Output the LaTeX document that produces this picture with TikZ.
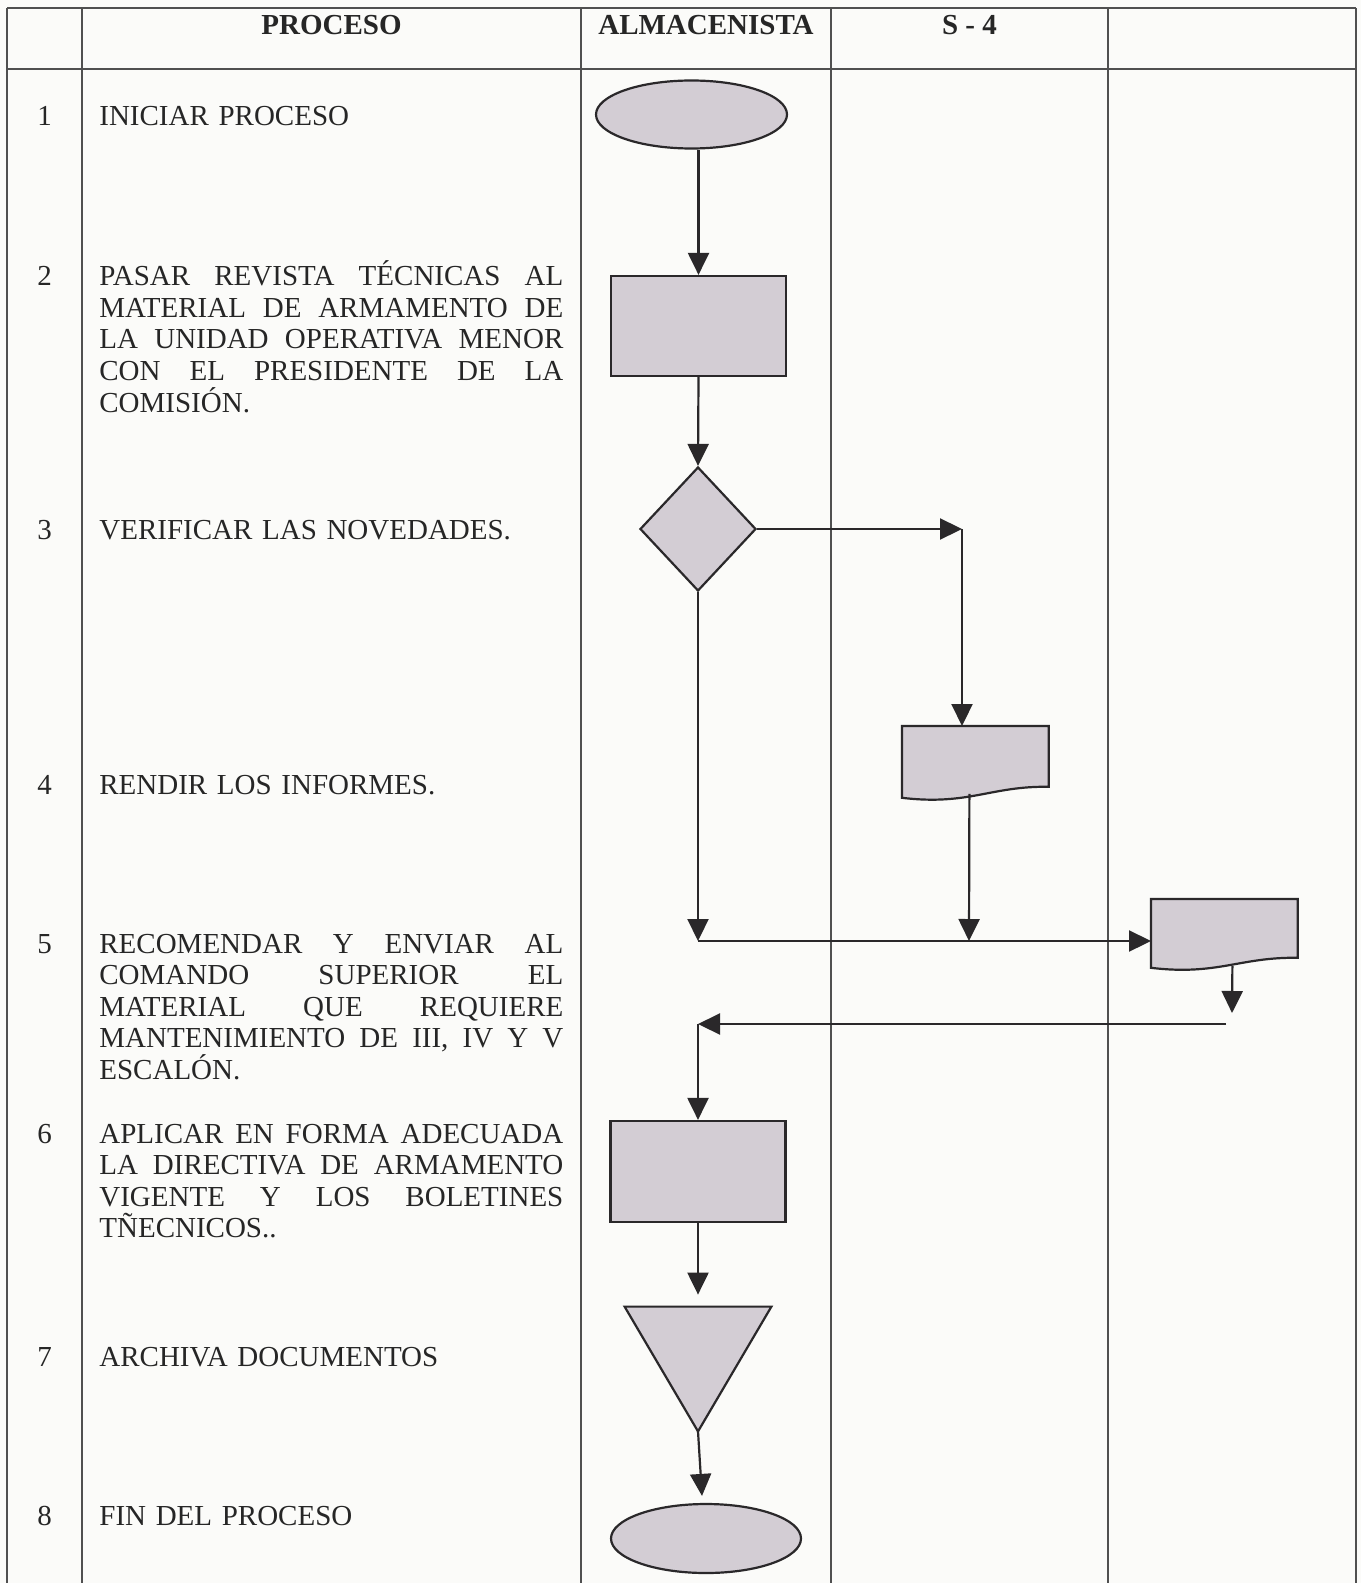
\documentclass[tikz,border=0pt]{standalone}
\usepackage{fontspec}
\setmainfont{Liberation Serif}
\usetikzlibrary{shapes.geometric,arrows.meta,calc}
\definecolor{shapefill}{RGB}{211,205,212}
\definecolor{ink}{RGB}{42,40,42}
\definecolor{gridline}{RGB}{80,80,80}
\definecolor{paper}{RGB}{251,251,249}
\definecolor{txt}{RGB}{38,38,38}
\newcommand{\jl}[1]{\leavevmode\hbox to 232pt{#1}}
\newcommand{\docpath}[2]{\path[shp] (#1.north west) -- (#1.north east) -- (#1.south east) .. controls ($(#1.south east)+(-58,-1)$) and ($(#1.south east)+(-80,#2+8)$) .. ($(#1.south west)+(0,#2)$) -- cycle;}
\begin{document}
\begin{tikzpicture}[x=0.5pt,y=-0.5pt,
  grid/.style={draw=gridline,line width=0.8pt},
  shp/.style={draw=ink,fill=shapefill,line width=1.1pt,inner sep=0pt},
  ghost/.style={draw=none,fill=none,inner sep=0pt,shape=rectangle},
  arr/.style={draw=ink,line width=1.1pt,-{Triangle[length=11pt,width=10.5pt]}},
  hdr/.style={font=\fontsize{14.5}{15.75}\selectfont\bfseries,text=txt,anchor=base,inner sep=0pt},
  num/.style={font=\fontsize{14.5}{15.75}\selectfont,text=txt,anchor=base,inner sep=0pt},
  desc/.style={font=\fontsize{14.5}{15.75}\selectfont,text=txt,anchor=base west,inner sep=0pt,text width=232pt,align=left},
]
\fill[paper] (0,0) rectangle (1361,1583);
\useasboundingbox (0,0) rectangle (1361,1583);

% table
\draw[grid] (7,8) -- (1356,8);
\draw[grid] (7,69) -- (1356,69);
\foreach \x in {7,82,581,831,1108,1356} \draw[grid] (\x,8) -- (\x,1583);

% header
\node[hdr] (hproc) at (331.5,35) {PROCESO};
\node[hdr] (halm) at (706,35) {ALMACENISTA};
\node[hdr] (hs4) at (969.5,35) {S - 4};

% rows
\node[num] (n1) at (44.5,126) {1};
\node[desc] (t1) at (99,126) {INICIAR PROCESO};
\node[num] (n2) at (44.5,286) {2};
\node[desc] (t2) at (99,286) {\jl{PASAR\hfill REVISTA\hfill TÉCNICAS\hfill AL}\\\jl{MATERIAL\hfill DE\hfill ARMAMENTO\hfill DE}\\\jl{LA\hfill UNIDAD\hfill OPERATIVA\hfill MENOR}\\\jl{CON\hfill EL\hfill PRESIDENTE\hfill DE\hfill LA}\\COMISIÓN.};
\node[num] (n3) at (44.5,539) {3};
\node[desc] (t3) at (99,539) {VERIFICAR LAS NOVEDADES.};
\node[num] (n4) at (44.5,794) {4};
\node[desc] (t4) at (99,794) {RENDIR LOS INFORMES.};
\node[num] (n5) at (44.5,953) {5};
\node[desc] (t5) at (99,953) {\jl{RECOMENDAR\hfill Y\hfill ENVIAR\hfill AL}\\\jl{COMANDO\hfill SUPERIOR\hfill EL}\\\jl{MATERIAL\hfill QUE\hfill REQUIERE}\\\jl{MANTENIMIENTO\hfill DE\hfill III,\hfill IV\hfill Y\hfill V}\\ESCALÓN.};
\node[num] (n6) at (44.5,1143) {6};
\node[desc] (t6) at (99,1143) {\jl{APLICAR\hfill EN\hfill FORMA\hfill ADECUADA}\\\jl{LA\hfill DIRECTIVA\hfill DE\hfill ARMAMENTO}\\\jl{VIGENTE\hfill Y\hfill LOS\hfill BOLETINES}\\TÑECNICOS..};
\node[num] (n7) at (44.5,1366) {7};
\node[desc] (t7) at (99,1366) {ARCHIVA DOCUMENTOS};
\node[num] (n8) at (44.5,1525) {8};
\node[desc] (t8) at (99,1525) {FIN DEL PROCESO};

% shapes
\node[shp,ellipse,minimum width=95.5pt,minimum height=34pt] (start) at (691.5,114.5) {};
\node[shp,rectangle,minimum width=87.5pt,minimum height=50pt] (rect2) at (698.5,326) {};
\node[shp,diamond,minimum width=58pt,minimum height=62pt] (dia) at (698,529) {};
\node[ghost,anchor=north west,minimum width=73pt,minimum height=30pt] (doc4) at (902,726) {};
\docpath{doc4}{11}
\node[ghost,anchor=north west,minimum width=73pt,minimum height=29pt] (doc5) at (1151,899) {};
\docpath{doc5}{10}
\node[shp,rectangle,minimum width=87.5pt,minimum height=50.5pt] (rect6) at (698,1171.5) {};
\node[ghost,minimum width=73pt,minimum height=62pt] (tri) at (698,1369) {};
\path[shp] (tri.north west) -- (tri.north east) -- (tri.south) -- cycle;
\node[shp,ellipse,minimum width=95pt,minimum height=34.5pt] (fin) at (706,1538.5) {};

% connectors
\coordinate (c3) at (962,529);
\coordinate (c4) at (969,941);
\coordinate (j5) at (dia.south |- c4);
\coordinate (c7) at (1232,1013);
\coordinate (c8) at (1226,1024);
\coordinate (j8) at (rect6.north |- c8);
\draw[arr] (start.south -| rect2.north) -- (rect2.north);
\draw[arr] (rect2.south) -- (dia.north);
\draw[arr] (dia.east) -- (c3);
\draw[arr] (c3) -- (c3 |- doc4.north);
\draw[arr] ($(doc4.south)+(-6,7)$) -- (c4);
\draw[arr] (dia.south) -- (j5);
\draw[arr] (j5) -- (doc5.west |- j5);
\draw[arr] ($(doc5.south)+(8,8)$) -- (c7);
\draw[arr] (c8) -- (j8);
\draw[arr] (j8) -- (rect6.north);
\draw[arr] (rect6.south) -- ($(tri.north)+(0,-12)$);
\draw[arr] (tri.south) -- ($(fin.north)+(-4,-7)$);
\end{tikzpicture}
\end{document}
